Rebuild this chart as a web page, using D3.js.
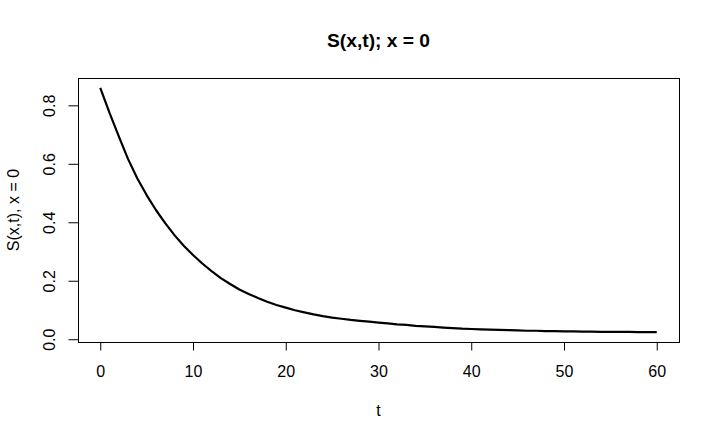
<!DOCTYPE html>
<html>
<head>
<meta charset="utf-8">
<script src="https://cdn.jsdelivr.net/npm/d3@7"></script>
<style>
  html, body { margin: 0; padding: 0; background: #fff; }
  svg { display: block; }
  text { font-family: "Liberation Sans", Arial, sans-serif; fill: #000; }
</style>
</head>
<body>
<svg id="chart" width="719" height="439"></svg>
<script>
// ---- data ----
const tValues = d3.range(0, 61); // t = 0..60
const sValues = [
  0.860, 0.774, 0.694, 0.616, 0.550, 0.493, 0.442, 0.397, 0.356, 0.320,
  0.288, 0.259, 0.233, 0.209, 0.189, 0.170, 0.155, 0.141, 0.128, 0.117,
  0.108, 0.099, 0.092, 0.085, 0.079, 0.074, 0.070, 0.066, 0.063, 0.060,
  0.057, 0.054, 0.051, 0.049, 0.046, 0.044, 0.042, 0.040, 0.038, 0.036,
  0.035, 0.034, 0.033, 0.032, 0.031, 0.030, 0.029, 0.029, 0.028, 0.028,
  0.027, 0.027, 0.026, 0.026, 0.025, 0.025, 0.025, 0.025, 0.024, 0.024,
  0.024
];
const xTicks = [0, 10, 20, 30, 40, 50, 60];
const yTicks = [0.0, 0.2, 0.4, 0.6, 0.8];
const yTickLabels = ["0.0", "0.2", "0.4", "0.6", "0.8"];
const titleText = "S(x,t); x = 0";
const xLabel = "t";
const yLabel = "S(x,t), x = 0";

// ---- layout ----
const plot = { left: 78, top: 78, right: 679, bottom: 342 };
const svg = d3.select("#chart");

function padded(ext) {
  const r = ext[1] - ext[0];
  return [ext[0] - 0.04 * r, ext[1] + 0.04 * r];
}
const x = d3.scaleLinear().domain(padded(d3.extent(tValues))).range([plot.left, plot.right]);
const y = d3.scaleLinear().domain(padded(d3.extent(sValues))).range([plot.bottom, plot.top]);

// box
svg.append("rect")
  .attr("x", plot.left + 0.5).attr("y", plot.top + 0.5)
  .attr("width", plot.right - plot.left).attr("height", plot.bottom - plot.top)
  .attr("fill", "none").attr("stroke", "#000").attr("stroke-width", 1);

// x axis
const xAxis = d3.axisBottom(x).tickValues(xTicks).tickSize(8).tickPadding(14)
  .tickFormat(d3.format("d"));
const gx = svg.append("g").attr("transform", `translate(0,${plot.bottom + 0.5})`).call(xAxis);
gx.select(".domain").attr("d", `M${x(xTicks[0])},0H${x(xTicks[xTicks.length-1])}`).attr("stroke", "#000");
gx.selectAll(".tick line").attr("stroke", "#000");
gx.selectAll("text").attr("font-size", "16px").attr("fill", "#000")
  .attr("font-family", "Liberation Sans, Arial, sans-serif")
  .attr("dy", null).attr("y", 34);

// y axis
const yAxis = d3.axisLeft(y).tickValues(yTicks).tickSize(10)
  .tickFormat((d, i) => yTickLabels[i]);
const gy = svg.append("g").attr("transform", `translate(${plot.left + 0.5},0)`).call(yAxis);
gy.select(".domain").attr("d", `M0,${y(yTicks[0])}V${y(yTicks[yTicks.length-1])}`).attr("stroke", "#000");
gy.selectAll(".tick line").attr("stroke", "#000");
gy.selectAll(".tick text")
  .attr("font-size", "16px").attr("fill", "#000")
  .attr("font-family", "Liberation Sans, Arial, sans-serif")
  .attr("x", null).attr("dy", null)
  .attr("text-anchor", "middle")
  .attr("transform", "translate(-23.5,0) rotate(-90)");

// line
const line = d3.line().x((d, i) => x(tValues[i])).y(d => y(d));
svg.append("path")
  .datum(sValues)
  .attr("d", line)
  .attr("fill", "none")
  .attr("stroke", "#000")
  .attr("stroke-width", 2.2)
  .attr("stroke-linejoin", "round");

// title
svg.append("text")
  .attr("x", (plot.left + plot.right) / 2).attr("y", 46.5)
  .attr("text-anchor", "middle")
  .attr("font-size", "19.2px").attr("font-weight", "bold")
  .text(titleText);

// x label
svg.append("text")
  .attr("x", (plot.left + plot.right) / 2).attr("y", 415.5)
  .attr("text-anchor", "middle").attr("font-size", "16px")
  .text(xLabel);

// y label
svg.append("text")
  .attr("transform", `translate(18.5,${(plot.top + plot.bottom) / 2}) rotate(-90)`)
  .attr("text-anchor", "middle").attr("font-size", "16px")
  .text(yLabel);
</script>
</body>
</html>
